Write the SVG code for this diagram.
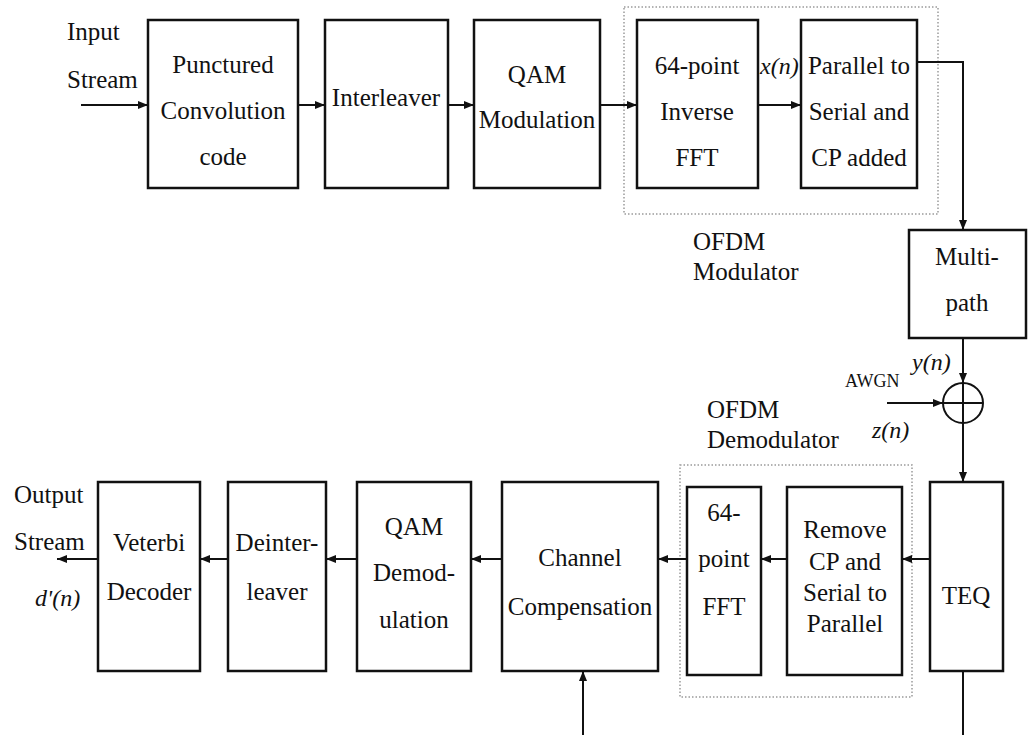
<svg xmlns="http://www.w3.org/2000/svg" width="1028" height="735" viewBox="0 0 1028 735">
<style>
.t{font-size:25px;text-anchor:middle}
.l{font-size:25px}
.i{font-size:24px;font-style:italic}
.box{fill:#fff;stroke:#111;stroke-width:2.5}
.dot{fill:none;stroke:#9a9a9a;stroke-width:1.5;stroke-dasharray:1.5 2}
.w{stroke:#111;stroke-width:2;fill:none}
</style>
<defs>
<marker id="ah" markerUnits="userSpaceOnUse" markerWidth="10" markerHeight="8" refX="10" refY="4" orient="auto">
<path d="M0,0 L10,4 L0,8 z" fill="#111"/>
</marker>
</defs>

<rect class="dot" x="624" y="7" width="314" height="207"/>
<rect class="dot" x="680" y="465" width="232" height="232"/>

<g font-family="Liberation Serif, Times New Roman, serif" fill="#111">
<g id="input-label">
<text class="l" x="67" y="40">Input</text>
<text class="l" x="67" y="88">Stream</text>
</g>
<g id="punctured">
<rect class="box" x="148" y="20" width="150" height="168"/>
<text class="t" x="223" y="73">Punctured</text>
<text class="t" x="223" y="119">Convolution</text>
<text class="t" x="223" y="165">code</text>
</g>
<g id="interleaver">
<rect class="box" x="325" y="20" width="123" height="168"/>
<text class="t" x="386" y="106">Interleaver</text>
</g>
<g id="qam-mod">
<rect class="box" x="474" y="20" width="126" height="168"/>
<text class="t" x="537" y="83">QAM</text>
<text class="t" x="537" y="128">Modulation</text>
</g>
<g id="ifft">
<rect class="box" x="637" y="20" width="121" height="168"/>
<text class="t" x="697" y="74">64-point</text>
<text class="t" x="697" y="120">Inverse</text>
<text class="t" x="697" y="166">FFT</text>
</g>
<g id="p2s">
<rect class="box" x="801" y="20" width="116" height="168"/>
<text class="t" x="859" y="74">Parallel to</text>
<text class="t" x="859" y="120">Serial and</text>
<text class="t" x="859" y="166">CP added</text>
</g>
<g id="ofdm-mod-label">
<text class="l" x="693" y="250">OFDM</text>
<text class="l" x="693" y="280">Modulator</text>
</g>
<g id="multipath">
<rect class="box" x="909" y="230" width="117" height="108"/>
<text class="t" x="967" y="265">Multi-</text>
<text class="t" x="967" y="311">path</text>
</g>
<g id="adder">
<circle cx="963" cy="403" r="20" fill="#fff" stroke="#111" stroke-width="2"/>
<line class="w" x1="943" y1="403" x2="983" y2="403"/>
<line class="w" x1="963" y1="383" x2="963" y2="423"/>
</g>
<g id="teq">
<rect class="box" x="930" y="482" width="73" height="189"/>
<text class="t" x="966" y="604">TEQ</text>
</g>
<g id="remove-cp">
<rect class="box" x="787" y="487" width="115" height="188"/>
<text class="t" x="845" y="538">Remove</text>
<text class="t" x="845" y="570">CP and</text>
<text class="t" x="845" y="601">Serial to</text>
<text class="t" x="845" y="632">Parallel</text>
</g>
<g id="fft">
<rect class="box" x="687" y="487" width="74" height="188"/>
<text class="t" x="724" y="521">64-</text>
<text class="t" x="724" y="567">point</text>
<text class="t" x="724" y="615">FFT</text>
</g>
<g id="ofdm-demod-label">
<text class="l" x="707" y="418">OFDM</text>
<text class="l" x="707" y="448">Demodulator</text>
</g>
<g id="channel-comp">
<rect class="box" x="502" y="482" width="156" height="189"/>
<text class="t" x="580" y="566">Channel</text>
<text class="t" x="580" y="615">Compensation</text>
</g>
<g id="qam-demod">
<rect class="box" x="357" y="482" width="114" height="189"/>
<text class="t" x="414" y="535">QAM</text>
<text class="t" x="414" y="581">Demod-</text>
<text class="t" x="414" y="628">ulation</text>
</g>
<g id="deinterleaver">
<rect class="box" x="228" y="482" width="98" height="189"/>
<text class="t" x="277" y="551">Deinter-</text>
<text class="t" x="277" y="600">leaver</text>
</g>
<g id="viterbi">
<rect class="box" x="98" y="482" width="102" height="189"/>
<text class="t" x="149" y="551">Veterbi</text>
<text class="t" x="149" y="600">Decoder</text>
</g>
<g id="output-label">
<text class="l" x="14" y="503">Output</text>
<text class="l" x="14" y="550">Stream</text>
<text class="i" x="35" y="606" font-size="26">d'(n)</text>
</g>
<g id="signal-labels">
<text class="i" x="760" y="74">x(n)</text>
<text class="i" x="912" y="370">y(n)</text>
<text class="i" x="872" y="438">z(n)</text>
<text x="845" y="387" font-size="18">AWGN</text>
</g>
</g>

<g id="connectors">
<line class="w" x1="81" y1="105" x2="148" y2="105" marker-end="url(#ah)"/>
<line class="w" x1="298" y1="105" x2="325" y2="105" marker-end="url(#ah)"/>
<line class="w" x1="448" y1="105" x2="474" y2="105" marker-end="url(#ah)"/>
<line class="w" x1="600" y1="105" x2="637" y2="105" marker-end="url(#ah)"/>
<line class="w" x1="758" y1="105" x2="801" y2="105" marker-end="url(#ah)"/>
<polyline class="w" points="917,62 963,62 963,230" marker-end="url(#ah)"/>
<line class="w" x1="963" y1="338" x2="963" y2="383" marker-end="url(#ah)"/>
<line class="w" x1="887" y1="403" x2="943" y2="403" marker-end="url(#ah)"/>
<line class="w" x1="963" y1="423" x2="963" y2="482" marker-end="url(#ah)"/>
<line class="w" x1="963" y1="671" x2="963" y2="735"/>
<line class="w" x1="930" y1="559" x2="902" y2="559" marker-end="url(#ah)"/>
<line class="w" x1="787" y1="559" x2="761" y2="559" marker-end="url(#ah)"/>
<line class="w" x1="687" y1="559" x2="658" y2="559" marker-end="url(#ah)"/>
<line class="w" x1="502" y1="559" x2="471" y2="559" marker-end="url(#ah)"/>
<line class="w" x1="357" y1="559" x2="326" y2="559" marker-end="url(#ah)"/>
<line class="w" x1="228" y1="559" x2="200" y2="559" marker-end="url(#ah)"/>
<line class="w" x1="98" y1="559" x2="57" y2="559" marker-end="url(#ah)"/>
<line class="w" x1="583" y1="735" x2="583" y2="671" marker-end="url(#ah)"/>
</g>
</svg>
